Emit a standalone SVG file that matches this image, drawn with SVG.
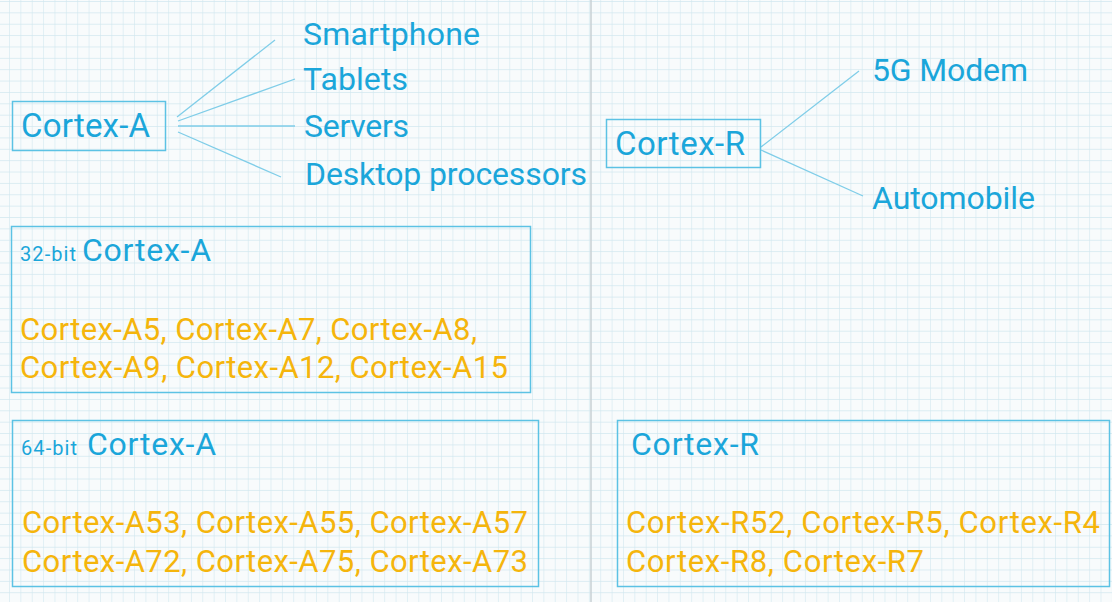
<svg xmlns="http://www.w3.org/2000/svg" width="1112" height="602" viewBox="0 0 1112 602">
<defs>
<pattern id="grid" x="9" y="1" width="11.37" height="11.37" patternUnits="userSpaceOnUse">
<path d="M0 0H11.37M0 0V11.37" fill="none" stroke="#d1e7ef" stroke-width="1.2"/>
</pattern>
<style>
.t{font-family:Roboto,"Liberation Sans",sans-serif;fill:#1ba6da;}
.big{font-size:32px;}
.node{font-size:33px;}
.small{font-size:20px;}
.o{font-family:Roboto,"Liberation Sans",sans-serif;fill:#f5b50c;font-size:31px;}
.box{fill:none;stroke:#5cc2e4;stroke-width:1.5;}
.c{stroke:#7fcde8;stroke-width:1.3;fill:none;}
</style>
</defs>
<rect width="1112" height="602" fill="#f8fbfc"/>
<rect width="1112" height="602" fill="url(#grid)"/>
<line x1="591" y1="0" x2="591" y2="602" stroke="#c8d0d4" stroke-width="1.5"/>

<g id="connectors">
<line class="c" x1="177" y1="117" x2="275" y2="40"/>
<line class="c" x1="178" y1="121" x2="295" y2="79"/>
<line class="c" x1="178" y1="126" x2="295" y2="126"/>
<line class="c" x1="178" y1="132" x2="281" y2="177"/>
<line class="c" x1="761" y1="147" x2="859" y2="71"/>
<line class="c" x1="761" y1="150" x2="863" y2="196"/>
</g>

<g id="cortex-a">
<rect class="box" x="12.5" y="101.5" width="153" height="49"/>
<text class="t node" x="21" y="137" textLength="129" lengthAdjust="spacing">Cortex-A</text>
</g>
<g id="smartphone"><text class="t big" x="303" y="45" textLength="177" lengthAdjust="spacing">Smartphone</text></g>
<g id="tablets"><text class="t big" x="303" y="90" textLength="105" lengthAdjust="spacing">Tablets</text></g>
<g id="servers"><text class="t big" x="304" y="137" textLength="105" lengthAdjust="spacing">Servers</text></g>
<g id="desktop"><text class="t big" x="305" y="185" textLength="282" lengthAdjust="spacing">Desktop processors</text></g>

<g id="cortex-r">
<rect class="box" x="606.5" y="119.5" width="154" height="48"/>
<text class="t node" x="615" y="155" textLength="130" lengthAdjust="spacing">Cortex-R</text>
</g>
<g id="modem"><text class="t big" x="872" y="81" textLength="156" lengthAdjust="spacing">5G Modem</text></g>
<g id="automobile"><text class="t big" x="872" y="209" textLength="163" lengthAdjust="spacing">Automobile</text></g>

<g id="a32">
<rect class="box" x="11.5" y="226.5" width="519" height="166"/>
<text class="t small" x="20" y="261" textLength="56" lengthAdjust="spacing">32-bit</text>
<text class="t big" x="82" y="261" textLength="129" lengthAdjust="spacing">Cortex-A</text>
<text class="o" x="20" y="340" textLength="457" lengthAdjust="spacing">Cortex-A5, Cortex-A7, Cortex-A8,</text>
<text class="o" x="20" y="378" textLength="488" lengthAdjust="spacing">Cortex-A9, Cortex-A12, Cortex-A15</text>
</g>

<g id="a64">
<rect class="box" x="12.5" y="420.5" width="526" height="166"/>
<text class="t small" x="21" y="455" textLength="56" lengthAdjust="spacing">64-bit</text>
<text class="t big" x="87" y="455" textLength="129" lengthAdjust="spacing">Cortex-A</text>
<text class="o" x="22" y="533" textLength="506" lengthAdjust="spacing">Cortex-A53, Cortex-A55, Cortex-A57</text>
<text class="o" x="22" y="572" textLength="506" lengthAdjust="spacing">Cortex-A72, Cortex-A75, Cortex-A73</text>
</g>

<g id="r-list">
<rect class="box" x="617.5" y="420.5" width="492" height="166"/>
<text class="t big" x="631" y="455" textLength="128" lengthAdjust="spacing">Cortex-R</text>
<text class="o" x="626" y="533" textLength="474" lengthAdjust="spacing">Cortex-R52, Cortex-R5, Cortex-R4</text>
<text class="o" x="626" y="572" textLength="298" lengthAdjust="spacing">Cortex-R8, Cortex-R7</text>
</g>
</svg>
